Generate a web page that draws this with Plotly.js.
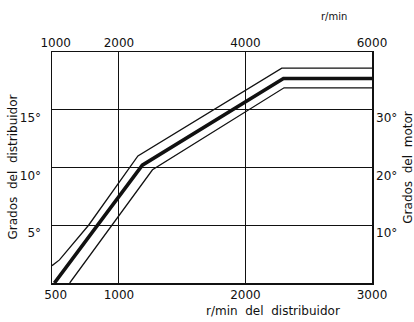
<!DOCTYPE html>
<html>
<head>
<meta charset="utf-8">
<script src="https://cdn.plot.ly/plotly-3.0.1.min.js"></script>
<style>
html,body{margin:0;padding:0;background:#fff;}
#chart{width:414px;height:322px;}
</style>
</head>
<body>
<div id="chart"></div>
<script>
// Distributor r/min vs distributor degrees
const midRpm = [490, 1185, 2300, 3000];
const midDeg = [0, 10.2, 17.7, 17.7];
const upRpm = [471, 530, 760, 1150, 2287, 3000];
const upDeg = [1.5, 2.0, 5.0, 11.0, 18.6, 18.6];
const lowRpm = [611, 1265, 2305, 3000];
const lowDeg = [0, 9.8, 16.9, 16.9];

const bottomTicks = [500, 1000, 2000, 3000];
const topTicks = [1000, 2000, 4000, 6000];
const gridRpm = [1000, 2000];
const leftTicks = [5, 10, 15];
const rightTicks = [10, 20, 30];

const FONT = 'DejaVu Sans, sans-serif';
const ink = '#111';

const traces = [
  {x: upRpm, y: upDeg, mode: 'lines', line: {color: ink, width: 1.3}, hoverinfo: 'skip'},
  {x: lowRpm, y: lowDeg, mode: 'lines', line: {color: ink, width: 1.3}, hoverinfo: 'skip'},
  {x: midRpm, y: midDeg, mode: 'lines', line: {color: ink, width: 3.6}, hoverinfo: 'skip'},
  // same middle curve in engine units (motor r/min = 2x, motor degrees = 2x) so the top/right axes exist
  {x: midRpm.map(v => 2 * v), y: midDeg.map(v => 2 * v), xaxis: 'x2', yaxis: 'y2',
   mode: 'lines', line: {color: ink, width: 3.6}, opacity: 0, hoverinfo: 'skip'}
];

const layout = {
  width: 414, height: 322,
  margin: {l: 52, r: 42, t: 52, b: 39},
  paper_bgcolor: '#fff', plot_bgcolor: '#fff',
  showlegend: false,
  font: {family: FONT, size: 12, color: ink},
  xaxis: {
    range: [471, 3000], tickvals: bottomTicks, ticktext: bottomTicks.map(String),
    showgrid: false, zeroline: false, ticks: '',
    showline: true, linecolor: ink, linewidth: 1.5, mirror: true,
    ticklabelstandoff: 0,
    minor: {tickvals: gridRpm, showgrid: true, gridcolor: ink, gridwidth: 1, ticks: ''}
  },
  xaxis2: {
    overlaying: 'x', side: 'top', range: [942, 6000],
    tickvals: topTicks, ticktext: topTicks.map(String),
    showgrid: false, zeroline: false, ticks: '', showline: false,
    ticklabelstandoff: 2
  },
  yaxis: {
    range: [0, 20], tickvals: leftTicks, ticktext: leftTicks.map(v => v + '°'),
    showgrid: true, gridcolor: ink, gridwidth: 1, zeroline: false, ticks: '',
    showline: true, linecolor: ink, linewidth: 1.5, mirror: true,
    ticklabelshift: 8, ticklabelstandoff: 7
  },
  yaxis2: {
    overlaying: 'y', side: 'right', range: [0, 40],
    tickvals: rightTicks, ticktext: rightTicks.map(v => v + '°'),
    showgrid: false, zeroline: false, ticks: '', showline: false,
    ticklabelshift: 8, ticklabelstandoff: 3
  },
  annotations: [
    {text: 'Grados  del  distribuidor', xref: 'paper', yref: 'paper', x: -0.125, y: 0.5,
     xanchor: 'center', yanchor: 'middle', textangle: -90, showarrow: false,
     font: {family: FONT, size: 12, color: ink}},
    {text: 'Grados  del  motor', xref: 'paper', yref: 'paper', x: 1.11, y: 0.5,
     xanchor: 'center', yanchor: 'middle', textangle: -90, showarrow: false,
     font: {family: FONT, size: 12, color: ink}},
    {text: 'r/min  del  distribuidor', xref: 'paper', yref: 'paper', x: 0.69, y: -0.123,
     xanchor: 'center', yanchor: 'middle', showarrow: false,
     font: {family: FONT, size: 12, color: ink}},
    {text: 'r/min', xref: 'paper', yref: 'paper', x: 0.88, y: 1.155,
     xanchor: 'center', yanchor: 'middle', showarrow: false,
     font: {family: FONT, size: 10, color: ink}}
  ]
};

Plotly.newPlot('chart', traces, layout, {staticPlot: true});
</script>
</body>
</html>
